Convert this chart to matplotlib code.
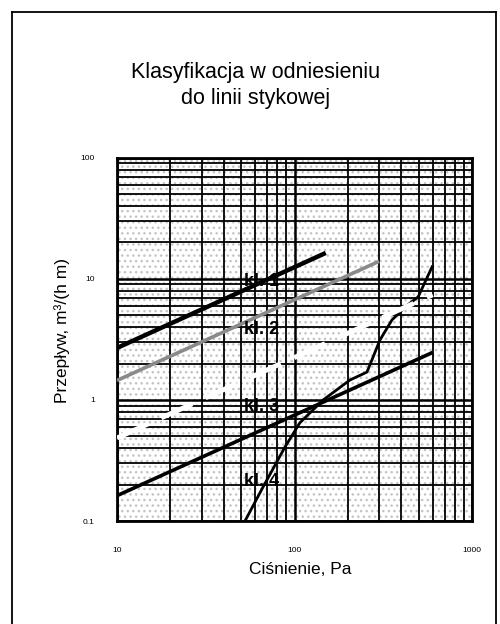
import matplotlib.pyplot as plt
from matplotlib.patches import Rectangle
from matplotlib.lines import Line2D
from matplotlib.ticker import LogLocator, NullFormatter, FixedLocator, FixedFormatter

plt.rcParams['font.family'] = ['Liberation Sans', 'DejaVu Sans']
plt.rcParams['hatch.linewidth'] = 1.0

# class lines (pressure Pa, flow m3/(h m)), endpoints
kl1_x = [10, 150]
kl1_y = [2.69, 16.4]
kl2_x = [10, 300]
kl2_y = [1.45, 14.0]
kl3_x = [10, 600]
kl3_y = [0.485, 7.4]
kl4_x = [10, 600]
kl4_y = [0.162, 2.47]

# measured curve
meas_x = [52.6, 66.5, 88.4, 107, 145, 205, 256, 273, 303, 354, 420, 497, 596]
meas_y = [0.10, 0.191, 0.409, 0.646, 1.0, 1.46, 1.70, 2.14, 3.13, 4.58, 5.87, 7.1, 12.6]

labels = ['kl. 1', 'kl. 2', 'kl. 3', 'kl. 4']
label_x = [65.6, 65.6, 65.6, 65.6]
label_y = [9.6, 3.79, 0.89, 0.214]

x_ticks = [10, 100, 1000]
x_ticklabels = ['10', '100', '1000']
y_ticks = [0.1, 1, 10, 100]
y_ticklabels = ['0.1', '1', '10', '100']

fig = plt.figure(figsize=(5.0, 6.24), dpi=100)
ax = fig.add_axes([0.234, 0.165, 0.71, 0.582])
ax.set_xscale('log')
ax.set_yscale('log')
ax.set_xlim(10, 1000)
ax.set_ylim(0.1, 100)

# stippled background
ax.add_patch(Rectangle((0, 0), 1, 1, transform=ax.transAxes, facecolor='white',
                       edgecolor='#c4c4c4', hatch='...', linewidth=0, zorder=0))

ax.xaxis.set_major_locator(FixedLocator(x_ticks))
ax.xaxis.set_major_formatter(FixedFormatter(x_ticklabels))
ax.yaxis.set_major_locator(FixedLocator(y_ticks))
ax.yaxis.set_major_formatter(FixedFormatter(y_ticklabels))
ax.xaxis.set_minor_locator(LogLocator(base=10, subs=range(2, 10)))
ax.yaxis.set_minor_locator(LogLocator(base=10, subs=range(2, 10)))
ax.xaxis.set_minor_formatter(NullFormatter())
ax.yaxis.set_minor_formatter(NullFormatter())
ax.grid(which='major', color='black', linewidth=1.8, zorder=1)
ax.grid(which='minor', color='black', linewidth=1.3, zorder=1)
ax.set_axisbelow(True)
ax.tick_params(which='both', length=0)
ax.tick_params(axis='x', pad=19, labelsize=6)
ax.tick_params(axis='y', pad=16, labelsize=6)
for s in ax.spines.values():
    s.set_linewidth(2)

ax.plot(kl1_x, kl1_y, color='black', linewidth=3.2, solid_capstyle='butt', zorder=3)
ax.plot(kl2_x, kl2_y, color='#8a8a8a', linewidth=2.6, solid_capstyle='butt', zorder=3)
ax.plot(kl4_x, kl4_y, color='black', linewidth=2.6, solid_capstyle='butt', zorder=3)
ax.plot(meas_x, meas_y, color='black', linewidth=2.0, zorder=3)
ax.plot(kl3_x, kl3_y, color='white', linewidth=3.5, linestyle=(0, (7, 3)), zorder=4)

for t, x, y in zip(labels, label_x, label_y):
    ax.text(x, y, t, fontsize=13, fontweight='bold', ha='center', va='center', zorder=5)

ax.set_xlabel('Ciśnienie, Pa', fontsize=12.5)
ax.set_ylabel('Przepływ, m³/(h m)', fontsize=12.5)
ax.xaxis.set_label_coords(0.515, -0.113)
ax.yaxis.set_label_coords(-0.132, 0.526)

fig.text(0.512, 0.863, 'Klasyfikacja w odniesieniu\ndo linii stykowej',
         fontsize=15.5, ha='center', va='center', linespacing=1.3)

# outer frame
for xs, ys in [([0.024, 0.992], [0.981, 0.981]), ([0.024, 0.024], [0.0, 0.981]),
               ([0.992, 0.992], [0.0, 0.981])]:
    fig.add_artist(Line2D(xs, ys, color='black', linewidth=1.3, transform=fig.transFigure))

fig.savefig('out.png', dpi=100)
